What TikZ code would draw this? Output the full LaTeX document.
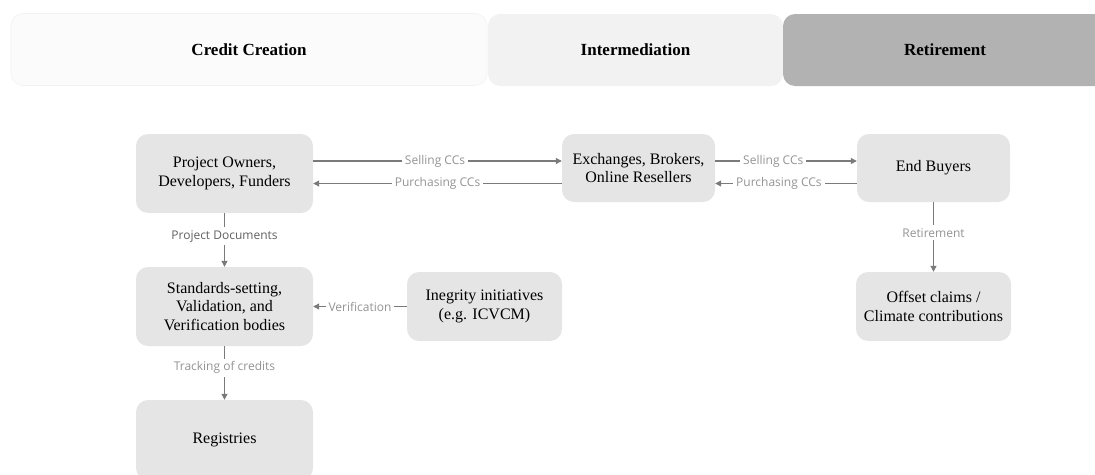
\documentclass[tikz,border=0pt]{standalone}
\usepackage{fontspec}
\setmainfont{Liberation Serif}
\newfontfamily\labelfont{Open Sans}
\usetikzlibrary{arrows.meta}

\begin{document}
\begin{tikzpicture}[x=1pt,y=-1pt,
  box/.style={fill=boxfill,rounded corners=12pt,align=center,inner sep=0pt,
    font=\fontsize{16}{18.5}\selectfont},
  band/.style={rounded corners=12pt,inner sep=0pt,minimum height=72pt,
    font=\fontsize{17}{20}\selectfont\bfseries},
  flow/.style={draw=wire,line width=1.1pt,-{Triangle[length=6pt,width=6pt]}},
  tag/.style={font=\labelfont\fontsize{12}{14}\selectfont,text=tagtext,fill=white,inner sep=3pt}]
  \colorlet{boxfill}{black!10}
  \colorlet{wire}{black!52}
  \colorlet{tagtext}{black!42}
  \colorlet{creation}{black!1.5}
  \colorlet{intermed}{black!5}
  \colorlet{retire}{black!30}

  \useasboundingbox (0,0) rectangle (1095,474);

  % stage bands
  \node [band,fill=creation,draw=intermed,line width=.6pt,minimum width=476pt]
    (creation) at (249,49.5) {Credit Creation};
  \node [band,fill=intermed,minimum width=295pt] (intermed) at (635.5,50) {Intermediation};
  \node [band,fill=retire,minimum width=324pt] (retire) at (945,50) {Retirement};

  % actors
  \node [box,minimum width=177pt,minimum height=79pt] (owners) at (224.5,173.5)
    {Project Owners,\\Developers, Funders};
  \node [box,minimum width=153pt,minimum height=68pt] (exch) at (638.5,168)
    {Exchanges, Brokers,\\Online Resellers};
  \node [box,minimum width=153pt,minimum height=68pt] (buyers) at (933.5,168) {End Buyers};
  \node [box,minimum width=177pt,minimum height=79pt] (standards) at (224.5,306.5)
    {Standards-setting,\\Validation, and\\Verification bodies};
  \node [box,minimum width=155pt,minimum height=69pt] (integrity) at (484.5,306.5)
    {Inegrity initiatives\\(e.g. ICVCM)};
  \node [box,minimum width=155pt,minimum height=69pt] (offset) at (933.5,306.5)
    {Offset claims /\\Climate contributions};
  \node [box,minimum width=177pt,minimum height=80pt] (registries) at (224.5,440) {Registries};

  \coordinate (sell) at (0,161);
  \coordinate (buy) at (0,183.5);

  % trades
  \draw [flow] (owners.east |- sell) -- node [tag,pos=.49] {Selling CCs} (exch.west |- sell);
  \draw [flow] (exch.west |- buy) -- node [tag,pos=.5] {Purchasing CCs} (owners.east |- buy);
  \draw [flow] (exch.east |- sell) -- node [tag,pos=.41] {Selling CCs} (buyers.west |- sell);
  \draw [flow] (buyers.west |- buy) -- node [tag,pos=.55] {Purchasing CCs} (exch.east |- buy);

  % documents and credits
  \draw [flow] (owners) -- node [tag,pos=.43,text=black!62] {Project Documents} (standards);
  \draw [flow] (standards) -- node [tag,pos=.4] {Tracking of credits} (registries);
  \draw [flow] (integrity) -- node [tag,pos=.5] {Verification} (standards);
  \draw [flow] (buyers) -- node [tag,pos=.44] {Retirement} (offset);
\end{tikzpicture}
\end{document}
